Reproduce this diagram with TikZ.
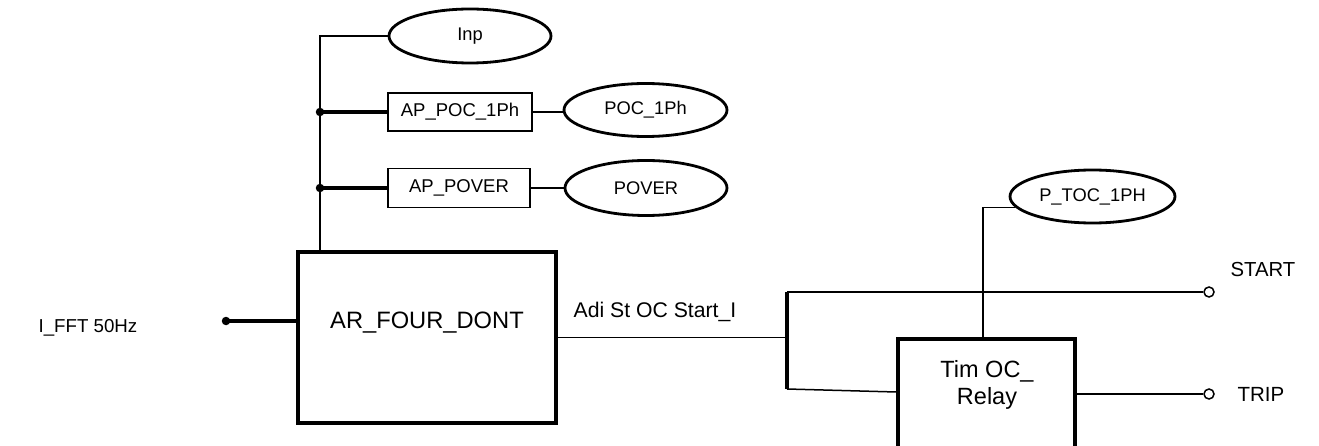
\documentclass[tikz,border=0pt]{standalone}
\usepackage{fontspec}
\setmainfont{Liberation Sans}
\usetikzlibrary{shapes.geometric}
\tikzset{
  thinln/.style={line width=1.5pt},
  thickln/.style={line width=3.2pt},
  ell/.style={ellipse, draw, line width=2.8pt, inner sep=0pt, font=\fontsize{18.3}{22}\selectfont},
  smallbox/.style={rectangle, draw, line width=1.5pt, inner sep=0pt, font=\fontsize{18.5}{22}\selectfont},
  bigbox/.style={rectangle, draw, line width=3.6pt, inner sep=0pt},
  lbl/.style={inner sep=0pt},
  opencirc/.style={circle, draw, line width=1.5pt, fill=white, minimum size=10pt, inner sep=0pt},
  dotc/.style={circle, fill=black, minimum size=8.5pt, inner sep=0pt}
}
\begin{document}
\begin{tikzpicture}[x=1pt,y=-1pt]
\clip (0,0) rectangle (1319,446);
\fill[white] (0,0) rectangle (1319,446);
% nodes
\node[ell, minimum width=162pt, minimum height=54pt] (inp) at (470,36) {Inp};
\node[smallbox, minimum width=144pt, minimum height=38pt] (apoc) at (460,112) {AP\_POC\_1Ph};
\node[ell, minimum width=163pt, minimum height=53pt] (poc) at (645.5,110) {POC\_1Ph};
\node[smallbox, minimum width=142pt, minimum height=39pt] (apover) at (459,188) {AP\_POVER};
\node[ell, minimum width=162pt, minimum height=55pt] (pover) at (646,188) {POVER};
\node[bigbox, minimum width=258pt, minimum height=171pt] (main) at (427,337.5) {};
\node[lbl, font=\fontsize{23.7}{28}\selectfont] (maintext) at (427,323) {AR\_FOUR\_DONT};
\node[lbl, font=\fontsize{18.7}{22}\selectfont] (ifft) at (88,328) {I\_FFT 50Hz};
\node[lbl, font=\fontsize{21.2}{25}\selectfont] (adi) at (655,312) {Adi St OC Start\_I};
\node[ell, minimum width=165pt, minimum height=53pt] (ptoc) at (1092.5,196.5) {P\_TOC\_1PH};
\node[bigbox, minimum width=177pt, minimum height=115pt] (relay) at (986.5,396.5) {};
\node[lbl, align=center, font=\fontsize{23.5}{27.5}\selectfont] (relaytext) at (987,385) {Tim OC\_\\Relay};
\node[opencirc] (startc) at (1209,292) {};
\node[opencirc] (tripc) at (1209,394) {};
\node[lbl, font=\fontsize{20.3}{24}\selectfont] (startl) at (1263,270) {START};
\node[lbl, font=\fontsize{20.5}{24}\selectfont] (tripl) at (1261,394) {TRIP};
% coordinates
\coordinate (bus) at (320,0);
\coordinate (in) at (226,321);
\coordinate (vt) at (787,292);
\coordinate (vb) at (787,389);
\coordinate (pt) at (983,0);
% connectors
\draw[thinln] (inp.west) -| (bus |- main.north);
\draw[thickln] (bus |- apoc.west) -- (apoc.west);
\draw[thickln] (bus |- apover.west) -- (apover.west);
\node[dotc] (d1) at (bus |- apoc.west) {};
\node[dotc] (d2) at (bus |- apover.west) {};
\draw[thinln] (apoc.east) -- (apoc.east -| poc.west);
\draw[thinln] (apover.east) -- (pover.west);
\draw[thickln] (in) -- (in -| main.west);
\node[dotc] (d3) at (in) {};
\draw[thinln] (main.east) -- (main.east -| vt);
\draw[thickln] (vt) -- (vb);
\draw[thinln] (vt) -- (startc);
\draw[thinln] (vb) -- (relay.west |- 0,392);
\draw[thinln] (relay.east |- tripc) -- (tripc);
\draw[thinln] (ptoc.188) -| (pt |- relay.north);
\end{tikzpicture}
\end{document}
